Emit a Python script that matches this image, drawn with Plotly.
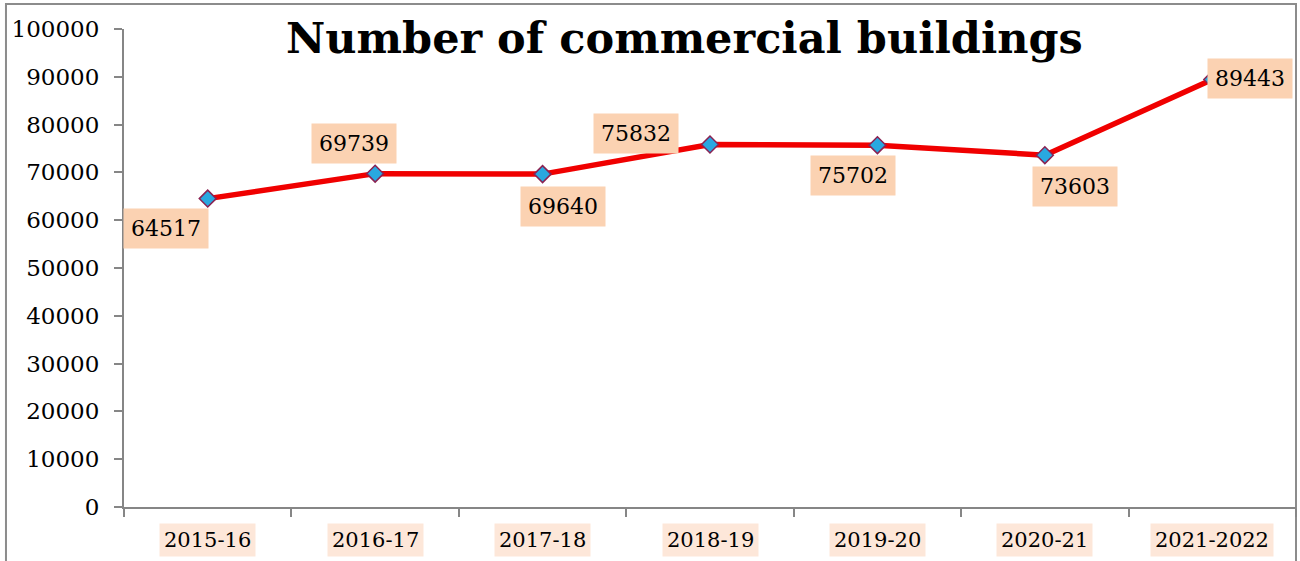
import plotly.graph_objects as go

categories = ["2015-16", "2016-17", "2017-18", "2018-19", "2019-20", "2020-21", "2021-2022"]
values = [64517, 69739, 69640, 75832, 75702, 73603, 89443]
label_dx = [-42, -21, 20, -74, -24, 30, 38]
label_dy = [30, -30, 32, -11, 30, 31, -1]

FONT = "DejaVu Serif"

fig = go.Figure()
fig.add_trace(go.Scatter(
    x=categories, y=values, mode="lines+markers",
    line=dict(color="#f00000", width=5.5),
    marker=dict(symbol="diamond", size=13, color="#29a8e0",
                line=dict(color="#8b2252", width=1.5)),
    showlegend=False, hoverinfo="skip",
))

for c, v, dx, dy in zip(categories, values, label_dx, label_dy):
    fig.add_annotation(x=c, y=v, xref="x", yref="y", text=str(v), showarrow=False,
                       xshift=dx, yshift=-dy, bgcolor="#fbd2b2", borderpad=7,
                       font=dict(family=FONT, size=22, color="black"))

for c in categories:
    fig.add_annotation(x=c, y=-0.07, xref="x", yref="paper", text=c, showarrow=False,
                       yanchor="middle", bgcolor="#fde7d9", borderpad=4,
                       font=dict(family=FONT, size=21, color="black"))

fig.add_annotation(x=0.478, y=0.981, xref="paper", yref="paper",
                   text="<b>Number of commercial buildings</b>", showarrow=False,
                   yanchor="middle", font=dict(family=FONT, size=43, color="black"))

fig.add_shape(type="rect", xref="paper", yref="paper", x0=-0.1007, x1=1.0, y0=-0.3, y1=1.0523,
              line=dict(color="#8c8c8c", width=2), fillcolor="rgba(0,0,0,0)", layer="below")

fig.update_xaxes(type="category", showticklabels=False, showline=True, linecolor="#868686",
                 linewidth=2, ticks="outside", tickson="boundaries", ticklen=8,
                 tickcolor="#868686", tickwidth=2, showgrid=False, range=[-0.5, 6.5],
                 automargin=False)
fig.update_yaxes(range=[0, 100000], dtick=10000, tickformat="d", showline=True,
                 linecolor="#868686", linewidth=2, ticks="outside", ticklen=8,
                 tickcolor="#868686", tickwidth=2, showgrid=False, zeroline=False,
                 ticklabelstandoff=10, automargin=False,
                 tickfont=dict(family=FONT, size=23, color="black"))

fig.update_layout(width=1300, height=561, margin=dict(l=124, r=4, t=29, b=54, autoexpand=False),
                  plot_bgcolor="white", paper_bgcolor="white")

fig.write_html("out.html", config={"displayModeBar": False},
               post_script="document.body.style.margin='0';")
